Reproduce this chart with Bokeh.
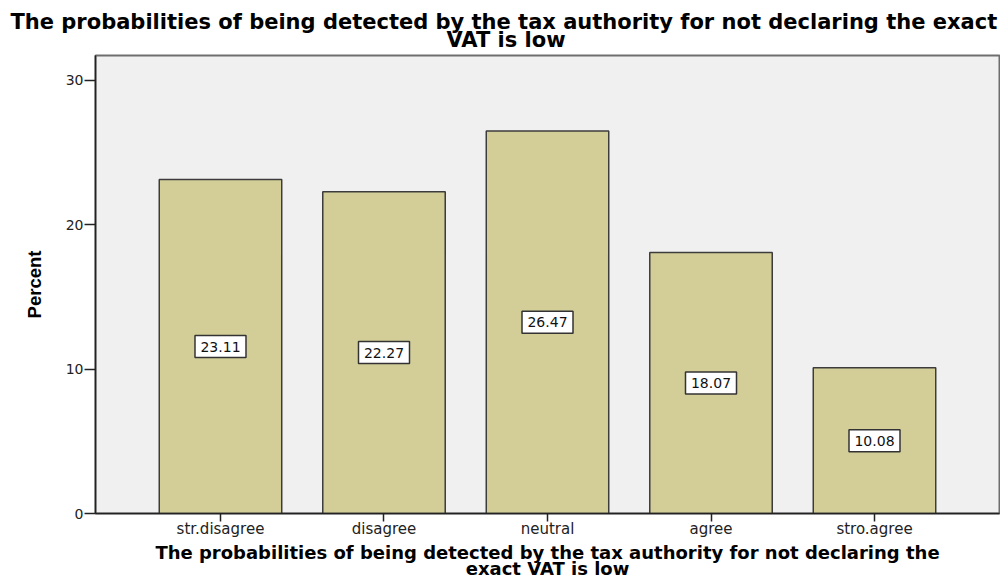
from bokeh.plotting import figure
from bokeh.models import ColumnDataSource, FactorRange, Range1d, LabelSet, Title
from bokeh.core.properties import value
from bokeh.embed import file_html
from bokeh.resources import INLINE

categories = ["str.disagree", "disagree", "neutral", "agree", "stro.agree"]
percents = [23.11, 22.27, 26.47, 18.07, 10.08]
value_labels = ["23.11", "22.27", "26.47", "18.07", "10.08"]
y_ticks = [0, 10, 20, 30]
title_lines = ["The probabilities of being detected by the tax authority for not declaring the exact",
               "VAT is low"]
xlabel_lines = ["The probabilities of being detected by the tax authority for not declaring the",
                "exact VAT is low"]
y_label = "Percent"

src = ColumnDataSource(dict(cat=categories, pct=percents,
                            mid=[v / 2 for v in percents], lab=value_labels))

W, H = 1000, 579
FL, FR, FT, FB = 95, 999, 55, 513  # frame edges in canvas px

p = figure(width=W, height=H,
           x_range=FactorRange(factors=categories, range_padding=0.1058),
           y_range=Range1d(0, 31.7),
           output_backend="svg", toolbar_location=None,
           min_border_left=FL, min_border_right=W - FR,
           min_border_top=FT, min_border_bottom=H - FB)

p.xgrid.visible = False
p.ygrid.visible = False
p.background_fill_color = "#F0F0F0"
p.border_fill_color = "white"
p.outline_line_color = "#6E6E6E"
p.outline_line_width = 2

p.vbar(x="cat", top="pct", width=0.749, source=src,
       fill_color="#D3CE98", line_color="#3C3C3C", line_width=1.5)

# value label boxes
p.rect(x="cat", y="mid", width=51, height=22, width_units="screen", height_units="screen",
       source=src, fill_color="white", line_color="#333333", line_width=1.5)
p.add_layout(LabelSet(x="cat", y="mid", text="lab", source=src,
                      text_align="center", text_baseline="middle",
                      text_font=value("DejaVu Sans"), text_font_size="14px",
                      text_color="#111111"))

# axes
p.yaxis.ticker = y_ticks
p.yaxis.minor_tick_line_color = None
p.yaxis.major_tick_in = 0
p.yaxis.major_tick_out = 11
p.yaxis.major_label_standoff = 1
p.yaxis.axis_label = y_label
p.yaxis.axis_label_text_font = "Liberation Sans"
p.yaxis.axis_label_text_font_style = "bold"
p.yaxis.axis_label_text_font_size = "18.5px"
p.yaxis.axis_label_text_color = "black"
p.yaxis.axis_label_standoff = 18

p.xaxis.major_tick_in = 0
p.xaxis.major_tick_out = 8
p.xaxis.major_label_standoff = -2
p.xaxis.axis_label = xlabel_lines[0]
p.xaxis.axis_label_text_font = "DejaVu Sans"
p.xaxis.axis_label_text_font_style = "bold"
p.xaxis.axis_label_text_font_size = "18px"
p.xaxis.axis_label_text_color = "black"
p.xaxis.axis_label_standoff = 1

for ax in (p.xaxis, p.yaxis):
    ax.axis_line_color = "#222222"
    ax.axis_line_width = 1.5
    ax.major_tick_line_color = "#222222"
    ax.major_tick_line_width = 1.5
    ax.major_label_text_font = "DejaVu Sans"
    ax.major_label_text_color = "#222222"
p.yaxis.major_label_text_font_size = "14px"
p.xaxis.major_label_text_font_size = "15px"

# second line of the x-axis label
p.add_layout(Title(text=xlabel_lines[1], align="center", vertical_align="top",
                   standoff=-16, text_font="DejaVu Sans", text_font_style="bold",
                   text_font_size="18px", text_color="black"), "below")

# chart title: line 2 first (closest to frame), then line 1
p.add_layout(Title(text=title_lines[1], align="left", offset=351, vertical_align="bottom",
                   standoff=7, text_font="DejaVu Sans", text_font_style="bold",
                   text_font_size="21px", text_color="black"), "above")
p.add_layout(Title(text=title_lines[0], align="left", offset=-85, vertical_align="bottom",
                   standoff=-23, text_font="DejaVu Sans", text_font_style="bold",
                   text_font_size="21px", text_color="black"), "above")

open("out.html", "w").write(file_html(p, INLINE))
